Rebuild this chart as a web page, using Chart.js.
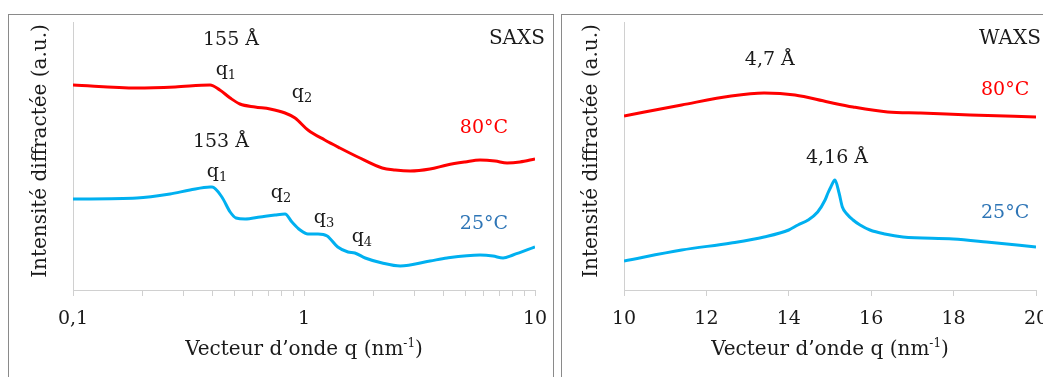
<!DOCTYPE html>
<html>
<head>
<meta charset="utf-8">
<script src="https://cdn.jsdelivr.net/npm/chart.js@4.4.0/dist/chart.umd.min.js"></script>
<style>
  body { margin: 0; width: 1043px; height: 377px; overflow: hidden; position: relative; background: #fff;
         font-family: "DejaVu Serif", serif; color: #1a1a1a; }
  .panel { position: absolute; top: 14px; height: 420px; border: 1px solid #8a8a8a; }
  .box { position: absolute; top: 0; }
  .xtitle { position: absolute; top: 336px; height: 24px; line-height: 24px; font-size: 20px; text-align: center; white-space: nowrap; }
  .xtitle sup { font-size: 12px; vertical-align: 8px; line-height: 0; }
  .ytitle { position: absolute; width: 300px; height: 24px; line-height: 24px; font-size: 20px; text-align: center;
            transform: rotate(-90deg); white-space: nowrap; }
  .tag { position: absolute; font-size: 20px; line-height: 24px; white-space: nowrap; }
</style>
</head>
<body>
<div class="panel" style="left:8px;width:544px;"></div>
<div class="panel" style="left:561px;width:520px;"></div>

<div class="box" style="left:0;width:553px;height:377px;"><canvas id="saxs" width="553" height="377"></canvas></div>
<div class="box" style="left:561px;width:500px;height:377px;"><canvas id="waxs" width="500" height="377"></canvas></div>

<div class="ytitle" style="left:-111px;top:139px;">Intensité diffractée (a.u.)</div>
<div class="ytitle" style="left:440px;top:139px;">Intensité diffractée (a.u.)</div>
<div class="xtitle" style="left:73px;width:462px;">Vecteur d’onde q (nm<sup>-1</sup>)</div>
<div class="xtitle" style="left:624px;width:412px;">Vecteur d’onde q (nm<sup>-1</sup>)</div>
<div class="tag" style="right:498px;top:25px;">SAXS</div>
<div class="tag" style="left:979px;top:25px;">WAXS</div>

<script>
// SAXS curves (log q)
const saxsQ80 = [0.1, 0.189, 0.277, 0.392, 0.432, 0.479, 0.528, 0.614, 0.713, 0.828, 0.915, 1.04, 1.23, 1.43, 1.71, 2.18, 2.48, 2.88, 3.51, 4.16, 4.98, 5.78, 6.72, 7.57, 8.61, 10];
const saxsI80 = [205, 202, 203, 205, 200, 192, 186, 183, 181, 177, 172, 160, 150, 142, 133, 122, 120, 119, 121, 125, 128, 130, 129, 127, 128, 131];
const saxsQ25 = [0.1, 0.189, 0.263, 0.321, 0.392, 0.400, 0.441, 0.479, 0.508, 0.556, 0.646, 0.749, 0.828, 0.887, 0.962, 1.04, 1.15, 1.26, 1.40, 1.55, 1.66, 1.84, 2.18, 2.61, 3.51, 4.16, 5.78, 6.58, 7.27, 8.03, 10];
const saxsI25 = [91, 92, 96, 100, 103, 103, 93, 78, 72, 71, 73, 75, 76, 68, 60, 56, 56, 54, 43, 38, 37, 32, 27, 24, 29, 32, 35, 34, 32, 35, 43];

// WAXS curves
const waxsQ80 = [10.0, 11.4, 12.6, 13.4, 14.15, 14.95, 15.56, 16.4, 17.2, 18.4, 20.0];
const waxsI80 = [174, 185, 194, 197, 195, 188, 183, 178, 177, 175, 173];
const waxsQ25 = [10.0, 11.4, 12.6, 13.4, 14.0, 14.22, 14.47, 14.7, 14.88, 14.95, 15.02, 15.12, 15.22, 15.3, 15.41, 15.56, 15.73, 15.97, 16.33, 16.77, 17.99, 18.8, 20.0];
const waxsI25 = [29, 40, 47, 53, 60, 65, 70, 78, 90, 97, 103, 110, 97, 83, 76, 70, 65, 60, 56, 53, 51, 48, 43];

// axis ticks
const saxsTicks = [0.1, 0.2, 0.3, 0.4, 0.5, 0.6, 0.7, 0.8, 0.9, 1, 2, 3, 4, 5, 6, 7, 8, 9, 10];
const saxsMajor = [0.1, 1, 10];
const saxsMajorLabels = ["0,1", "1", "10"];
const waxsTicks = [10, 12, 14, 16, 18, 20];

// peak labels
const saxsNoteText = ["155 Å", "q", "q", "153 Å", "q", "q", "q", "q", "80°C", "25°C"];
const saxsNoteSub = ["", "1", "2", "", "1", "2", "3", "4", "", ""];
const saxsNoteQ = [0.483, 0.459, 0.98, 0.437, 0.42, 0.795, 1.22, 1.78, 6.01, 6.01];
const saxsNoteI = [250, 220, 197, 148, 118, 97, 72, 53, 162, 66];
const waxsNoteText = ["4,7 Å", "80°C", "4,16 Å", "25°C"];
const waxsNoteQ = [13.54, 19.25, 15.17, 19.25];
const waxsNoteI = [230, 200, 132, 77];

const RED = "#ff0000";
const BLUE = "#00b0f0";
const BLUE_TEXT = "#2e75b6";
const AXIS = "#d0d0d0";
const FONT = '"DejaVu Serif", serif';

function pts(xs, ys) { return xs.map((x, i) => ({ x: x, y: ys[i] })); }

function notesPlugin(texts, subs, qs, is, colors) {
  return {
    id: "notes",
    afterDatasetsDraw(chart) {
      const ctx = chart.ctx;
      const xs = chart.scales.x, ys = chart.scales.y;
      ctx.save();
      ctx.textBaseline = "middle";
      ctx.textAlign = "left";
      texts.forEach((t, k) => {
        const px = xs.getPixelForValue(qs[k]);
        const py = ys.getPixelForValue(is[k]);
        ctx.font = "19px " + FONT;
        const w = ctx.measureText(t).width;
        let sw = 0;
        const sub = subs ? subs[k] : "";
        if (sub) { ctx.font = "13px " + FONT; sw = ctx.measureText(sub).width; }
        const left = px - (w + sw) / 2;
        ctx.fillStyle = colors[k];
        ctx.font = "19px " + FONT;
        ctx.fillText(t, left, py);
        if (sub) { ctx.font = "13px " + FONT; ctx.fillText(sub, left + w, py + 6); }
      });
      ctx.restore();
    }
  };
}

function lineSet(data, color) {
  return { data: data, borderColor: color, borderWidth: 3, pointRadius: 0, fill: false, cubicInterpolationMode: "monotone" };
}

function yAxis() {
  return {
    min: 0, max: 268,
    ticks: { display: false },
    grid: { display: false, drawTicks: false },
    border: { display: true, color: AXIS, width: 1 },
    afterFit(s) { s.width = 0; }
  };
}

// fixed bottom band, no extra side padding from tick labels
function xFit(s) { s.height = 87; s.paddingLeft = 0; s.paddingRight = 0; }

const saxsColors = ["#1a1a1a", "#1a1a1a", "#1a1a1a", "#1a1a1a", "#1a1a1a", "#1a1a1a", "#1a1a1a", "#1a1a1a", RED, BLUE_TEXT];
new Chart(document.getElementById("saxs"), {
  type: "line",
  data: { datasets: [lineSet(pts(saxsQ80, saxsI80), RED), lineSet(pts(saxsQ25, saxsI25), BLUE)] },
  options: {
    responsive: false, animation: false,
    layout: { padding: { left: 73, right: 18, top: 22, bottom: 0 } },
    plugins: { legend: { display: false }, tooltip: { enabled: false } },
    scales: {
      x: {
        type: "logarithmic", min: 0.1, max: 10,
        afterBuildTicks(s) { s.ticks = saxsTicks.map(v => ({ value: v })); },
        afterFit: xFit,
        ticks: {
          autoSkip: false, maxRotation: 0, padding: 12, color: "#1a1a1a",
          font: { family: FONT, size: 19 },
          callback(v) { const k = saxsMajor.indexOf(v); return k >= 0 ? saxsMajorLabels[k] : ""; }
        },
        grid: { display: true, drawOnChartArea: false, drawTicks: true, tickLength: 6, color: AXIS },
        border: { display: true, color: AXIS }
      },
      y: yAxis()
    }
  },
  plugins: [notesPlugin(saxsNoteText, saxsNoteSub, saxsNoteQ, saxsNoteI, saxsColors)]
});

new Chart(document.getElementById("waxs"), {
  type: "line",
  data: { datasets: [lineSet(pts(waxsQ80, waxsI80), RED), lineSet(pts(waxsQ25, waxsI25), BLUE)] },
  options: {
    responsive: false, animation: false,
    layout: { padding: { left: 63, right: 25, top: 22, bottom: 0 } },
    plugins: { legend: { display: false }, tooltip: { enabled: false } },
    scales: {
      x: {
        type: "linear", min: 10, max: 20,
        afterBuildTicks(s) { s.ticks = waxsTicks.map(v => ({ value: v })); },
        afterFit: xFit,
        ticks: { autoSkip: false, maxRotation: 0, padding: 12, color: "#1a1a1a", font: { family: FONT, size: 19 } },
        grid: { display: true, drawOnChartArea: false, drawTicks: true, tickLength: 6, color: AXIS },
        border: { display: true, color: AXIS }
      },
      y: yAxis()
    }
  },
  plugins: [notesPlugin(waxsNoteText, null, waxsNoteQ, waxsNoteI, ["#1a1a1a", RED, "#1a1a1a", BLUE_TEXT])]
});
</script>
</body>
</html>
